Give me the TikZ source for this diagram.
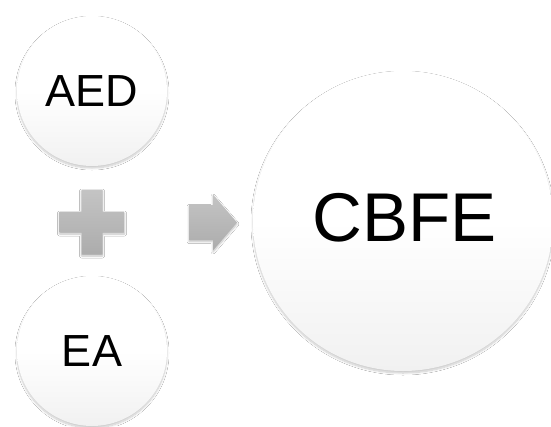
\documentclass[tikz,border=0pt]{standalone}
\usepackage{fontspec}
\setmainfont{Liberation Sans}
\usetikzlibrary{shadows.blur}
\definecolor{symtop}{HTML}{C4C4C4}
\definecolor{symbot}{HTML}{ACACAC}
\definecolor{bubblebot}{HTML}{F1F1F1}
\begin{document}
\begin{tikzpicture}[x=1pt,y=-1pt,
  bubble/.style={circle, inner sep=0pt, text=black,
    top color=white, bottom color=bubblebot, middle color=white,
    blur shadow={shadow xshift=0pt, shadow yshift=-2pt,
      shadow blur radius=2pt, shadow opacity=22, shadow blur steps=10}},
  small/.style={bubble, minimum size=150pt, font=\fontsize{45}{54}\selectfont},
  big/.style={bubble, minimum size=300pt, font=\fontsize{69}{80}\selectfont},
  symbol/.style={top color=symtop, bottom color=symbot, draw=none,
    blur shadow={shadow xshift=0pt, shadow yshift=-1.5pt,
      shadow blur radius=2pt, shadow opacity=25, shadow blur steps=8}}]
  \useasboundingbox[fill=white] (0,0) rectangle (551,426);

  % the three bubbles
  \node[small] (aed) at (92,91) {AED};
  \node[small] (ea) at (92,351) {EA};
  \node[big] (cbfe) at (403,221) {};
  \node[font=\fontsize{69}{80}\selectfont] (cbfelabel) at (405,218) {CBFE};

  % plus sign between the two inputs
  \coordinate (plus) at (92,222);
  \path[symbol, shift={(plus)}]
    (-10.5,-32.5) -- (10.5,-32.5) -- (10.5,-10.5) -- (32.5,-10.5)
    -- (32.5,10.5) -- (10.5,10.5) -- (10.5,32.5) -- (-10.5,32.5)
    -- (-10.5,10.5) -- (-32.5,10.5) -- (-32.5,-10.5) -- (-10.5,-10.5) -- cycle;

  % block arrow pointing to the result
  \coordinate (arrow) at (213,222.5);
  \path[symbol, shift={(arrow)}]
    (-24,-17.5) -- (0,-17.5) -- (0,-28) -- (24,0) -- (0,28) -- (0,17.5)
    -- (-24,17.5) -- cycle;
\end{tikzpicture}
\end{document}
